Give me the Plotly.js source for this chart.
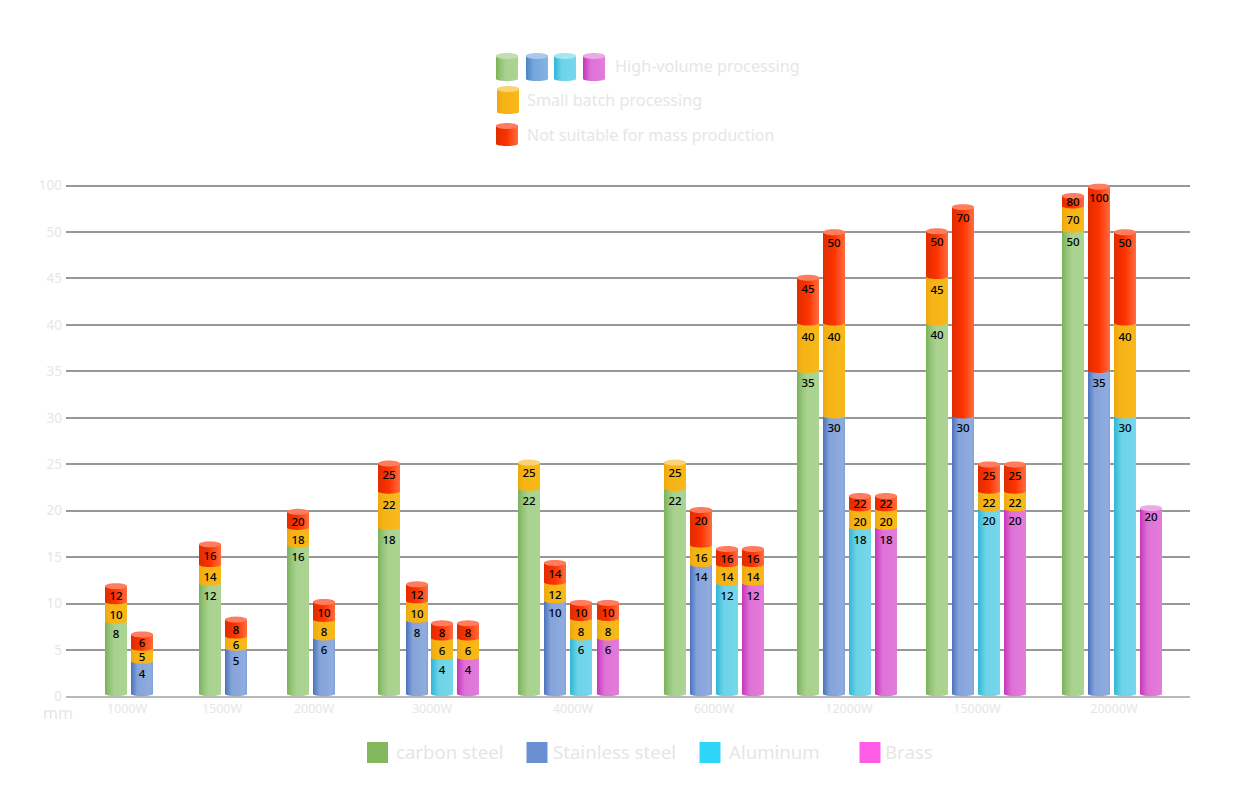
<!DOCTYPE html>
<html><head><meta charset="utf-8">
<script src="https://cdn.plot.ly/plotly-3.0.1.min.js"></script>
<style>html,body{margin:0;padding:0;background:#fff}#c{width:1250px;height:789px}</style>
</head><body><div id="c"></div>
<script>
// ---------- data ----------
const powers = ['1000W','1500W','2000W','3000W','4000W','6000W','12000W','15000W','20000W'];
const yTickLabels = ['0','5','10','15','20','25','30','35','40','45','50','100'];

// printed labels, per tier, per power
const carbonHigh  = [8,12,16,18,22,22,35,40,50];
const carbonSmall = [10,14,18,22,25,25,40,45,70];
const carbonNone  = [12,16,20,25,null,null,45,50,80];
const stainlessHigh  = [4,5,6,8,10,14,30,30,35];
const stainlessSmall = [5,6,8,10,12,16,40,null,null];
const stainlessNone  = [6,8,10,12,14,20,50,70,100];
const aluminumHigh  = [null,null,null,4,6,12,18,20,30];
const aluminumSmall = [null,null,null,6,8,14,20,22,40];
const aluminumNone  = [null,null,null,8,10,16,22,25,50];
const brassHigh  = [null,null,null,4,6,12,18,20,20];
const brassSmall = [null,null,null,6,8,14,20,22,null];
const brassNone  = [null,null,null,8,10,16,22,25,null];

// heights as drawn on the (broken) axis
const carbonHighH  = [7.9,12,16.1,18,22.2,22.2,34.9,40,50];
const carbonSmallH = [10,14,18,21.9,25.3,25.3,40,45,52.6];
const carbonNoneH  = [12,16.5,20,25.2,null,null,45.2,50.2,54];
const stainlessHighH  = [3.6,5,6.1,8,10.1,14,30,30,34.9];
const stainlessSmallH = [5,6.3,8.1,10.1,12.1,16.1,40,null,null];
const stainlessNoneH  = [6.8,8.4,10.3,12.2,14.5,20.2,50.1,52.8,55];
const aluminumHighH  = [null,null,null,4,6.1,12,18,20,30];
const aluminumSmallH = [null,null,null,6.1,8.2,14,20,21.9,40];
const aluminumNoneH  = [null,null,null,8,10.2,16,21.7,25.1,50.1];
const brassHighH  = [null,null,null,4,6.1,12,18,20,20.4];
const brassSmallH = [null,null,null,6.1,8.2,14,20,21.9,null];
const brassNoneH  = [null,null,null,8,10.2,16,21.7,25.1,null];

const legendTop = ['High-volume processing','Small batch processing','Not suitable for mass production'];
const legendBottom = ['carbon steel','Stainless steel','Aluminum','Brass'];

// ---------- layout constants (axis x unit = 1 screen pixel) ----------
const W=1250,H=789, plotL=66, plotR=1190, unitPx=9.29, zeroPx=696.5;
const yMin=-0.3, yMax=55.4;
const tickX=[127,222,314,432,573,714,849,977,1114];
const carbonX=[116,210,298,389,529,675,808,937,1073];
const stainlessX=[142,236,324,417,555,701,834,963,1099];
const aluminumX=[null,null,null,442,581,727,860,989,1125];
const brassX=[null,null,null,468,608,753,886,1015,1151];
const SLICES=22;

const grad={
 green:{stops:[[0,'#7ab35a'],[.25,'#98c67d'],[.45,'#a9d28f'],[1,'#abd391']],cap:'#c3dfb2'},
 blue:{stops:[[0,'#4a72bd'],[.3,'#84a3d9'],[.9,'#90acdf'],[1,'#7f9fd8']],cap:'#a9c1ea'},
 legendBlue:{stops:[[0,'#4a84c6'],[.35,'#74a6da'],[1,'#86b2e2']],cap:'#a9c9ec'},
 cyan:{stops:[[0,'#2fb6d6'],[.35,'#6ed3e8'],[1,'#76d7ea']],cap:'#a6e6f2'},
 pink:{stops:[[0,'#c736bb'],[.35,'#de72d6'],[1,'#e37cdc']],cap:'#eca9e7'},
 yellow:{stops:[[0,'#eea810'],[.25,'#f5b315'],[1,'#f8b91a']],cap:'#f8d476'},
 red:{stops:[[0,'#e02c00'],[.5,'#fd3300'],[1,'#ff6d40']],cap:'#ff7d5e'}
};
function hex(c){return [1,3,5].map(i=>parseInt(c.substr(i,2),16));}
function colorAt(g,t){
  const s=g.stops;
  for(let i=1;i<s.length;i++){ if(t<=s[i][0]){
    const f=(t-s[i-1][0])/(s[i][0]-s[i-1][0]),a=hex(s[i-1][1]),b=hex(s[i][1]);
    return 'rgb('+a.map((v,k)=>Math.round(v+(b[k]-v)*f)).join(',')+')';
  }}
  return s[s.length-1][1];
}

// One bar trace per 1px vertical slice; every rectangle of a cylinder is one bar in it.
function buildSlices(cyls,xa,ya,pxPerUnit,slices){
  const out=[];
  for(let i=0;i<slices;i++){
    const x=[],base=[],y=[],col=[];
    const t=(i+.5)/slices,u=2*t-1,e=Math.sqrt(1-u*u);
    cyls.forEach(c=>{
      const offs=i+.5-slices/2;
      const sag=c.sag*e/pxPerUnit, capR=c.capR/pxPerUnit, capS=c.capR*e/pxPerUnit;
      const top=c.edges[c.edges.length-1];
      const capC=top-capR;
      c.edges.forEach((ed,k)=>{
        if(k===c.edges.length-1) return;
        const lo=ed-sag, hi=(k===c.edges.length-2)?capC:c.edges[k+1];
        x.push(c.x+offs);base.push(lo);y.push(hi-lo);col.push(colorAt(grad[c.cols[k]],t));
      });
      x.push(c.x+offs);base.push(capC-capS);y.push(2*capS);col.push(grad[c.cols[c.cols.length-1]].cap);
    });
    out.push({type:'bar',x,y,base,width:1,xaxis:xa,yaxis:ya,hoverinfo:'skip',showlegend:false,opacity:1,
      marker:{color:col,opacity:1,line:{width:0}}});
  }
  return out;
}

const materials=[
 {col:'green',X:carbonX,T:[carbonHigh,carbonSmall,carbonNone],Hh:[carbonHighH,carbonSmallH,carbonNoneH]},
 {col:'blue',X:stainlessX,T:[stainlessHigh,stainlessSmall,stainlessNone],Hh:[stainlessHighH,stainlessSmallH,stainlessNoneH]},
 {col:'cyan',X:aluminumX,T:[aluminumHigh,aluminumSmall,aluminumNone],Hh:[aluminumHighH,aluminumSmallH,aluminumNoneH]},
 {col:'pink',X:brassX,T:[brassHigh,brassSmall,brassNone],Hh:[brassHighH,brassSmallH,brassNoneH]}
];
const LIFT=0.3, LABEL_DROP=[1.25,1.4,1.45], LABEL_SHARE=0.65, EDGE_RAISE=0.2;
const cyls=[],lx=[],ly=[],lt=[];
materials.forEach(m=>{
  powers.forEach((p,g)=>{
    if(m.X[g]===null) return;
    const edges=[LIFT],cols=[];
    const tierCol=[m.col,'yellow','red'];
    let prev=0;
    m.Hh.forEach((arr,k)=>{
      if(arr[g]===null) return;
      edges.push(arr[g]+EDGE_RAISE);cols.push(tierCol[k]);
      const drop=Math.min(LABEL_DROP[k],(arr[g]-prev)*LABEL_SHARE);
      lx.push(m.X[g]);ly.push(arr[g]-drop);lt.push(String(m.T[k][g]));
      prev=arr[g];
    });
    cyls.push({x:m.X[g],edges,cols,sag:2.5,capR:3});
  });
});

const data=buildSlices(cyls,'x','y',unitPx,SLICES);

// top legend cylinders, drawn on the full-page overlay axes (y grows downward)
const legendCyls=[
 {x:507,edges:[79,53],cols:['green'],sag:-2,capR:-3},
 {x:537,edges:[79,53],cols:['legendBlue'],sag:-2,capR:-3},
 {x:565,edges:[79,53],cols:['cyan'],sag:-2,capR:-3},
 {x:594,edges:[79,53],cols:['pink'],sag:-2,capR:-3},
 {x:508,edges:[112,86],cols:['yellow'],sag:-2,capR:-3},
 {x:507,edges:[144,123],cols:['red'],sag:-2,capR:-3}
];
data.push(...buildSlices(legendCyls,'x2','y2',1,22));

data.push({type:'scatter',mode:'text',x:lx,y:ly,text:lt,xaxis:'x',yaxis:'y',cliponaxis:false,
  textfont:{family:'Noto Sans',size:11.5,color:'#000',weight:500},textposition:'middle center',hoverinfo:'skip',showlegend:false});

// bottom legend swatches
const swatchX=[377.5,537,710,870], swatchCol=['#84b85e','#6a8fd2','#2fd5f7','#ff5ce6'], legTextX=[394,551,727,883];
data.push({type:'scatter',mode:'markers',x:swatchX,y:swatchX.map(()=>752.5),xaxis:'x2',yaxis:'y2',hoverinfo:'skip',showlegend:false,
  marker:{symbol:'square',size:21,color:swatchCol,line:{width:0}}});

const pale='#e6e6e6';
const ann=(text,x,y,size,anchor)=>({text,x,y,xref:'x2',yref:'y2',xanchor:anchor||'left',yanchor:'middle',showarrow:false,
  font:{family:'Noto Sans',size,color:pale}});
const annotations=[
 ann(legendTop[0],613,66,16.2),ann(legendTop[1],525,100,16.2),ann(legendTop[2],525,135,16),
 ann('mm',41,713,16)
].concat(legendBottom.map((t,i)=>ann(t,legTextX[i],751,18.6)));

const layout={
 width:W,height:H,margin:{l:0,r:0,t:0,b:0},paper_bgcolor:'#fff',plot_bgcolor:'rgba(0,0,0,0)',
 barmode:'overlay',showlegend:false,annotations,
 font:{family:'Noto Sans',color:pale},
 xaxis:{domain:[plotL/W,plotR/W],range:[plotL,plotR],showgrid:false,zeroline:false,showline:false,ticks:'',
   tickmode:'array',tickvals:tickX,ticktext:powers,tickfont:{family:'Noto Sans',size:12.5,color:pale},anchor:'y'},
 yaxis:{domain:[(H-(zeroPx-yMin*unitPx))/H,(H-(zeroPx-yMax*unitPx))/H],range:[yMin,yMax],
   tickmode:'array',tickvals:yTickLabels.map((t,i)=>i*5),ticktext:yTickLabels,
   tickfont:{family:'Noto Sans',size:13.5,color:pale},ticks:'',ticklabelstandoff:3,
   showgrid:true,gridcolor:'#979797',gridwidth:2,zeroline:true,zerolinecolor:'#b8b8b8',zerolinewidth:2,showline:false,anchor:'x'},
 xaxis2:{domain:[0,1],range:[0,W],visible:false,anchor:'y2',fixedrange:true},
 yaxis2:{domain:[0,1],range:[H,0],visible:false,anchor:'x2',fixedrange:true}
};
Plotly.newPlot('c',data,layout,{displayModeBar:false,staticPlot:true});
</script></body></html>
